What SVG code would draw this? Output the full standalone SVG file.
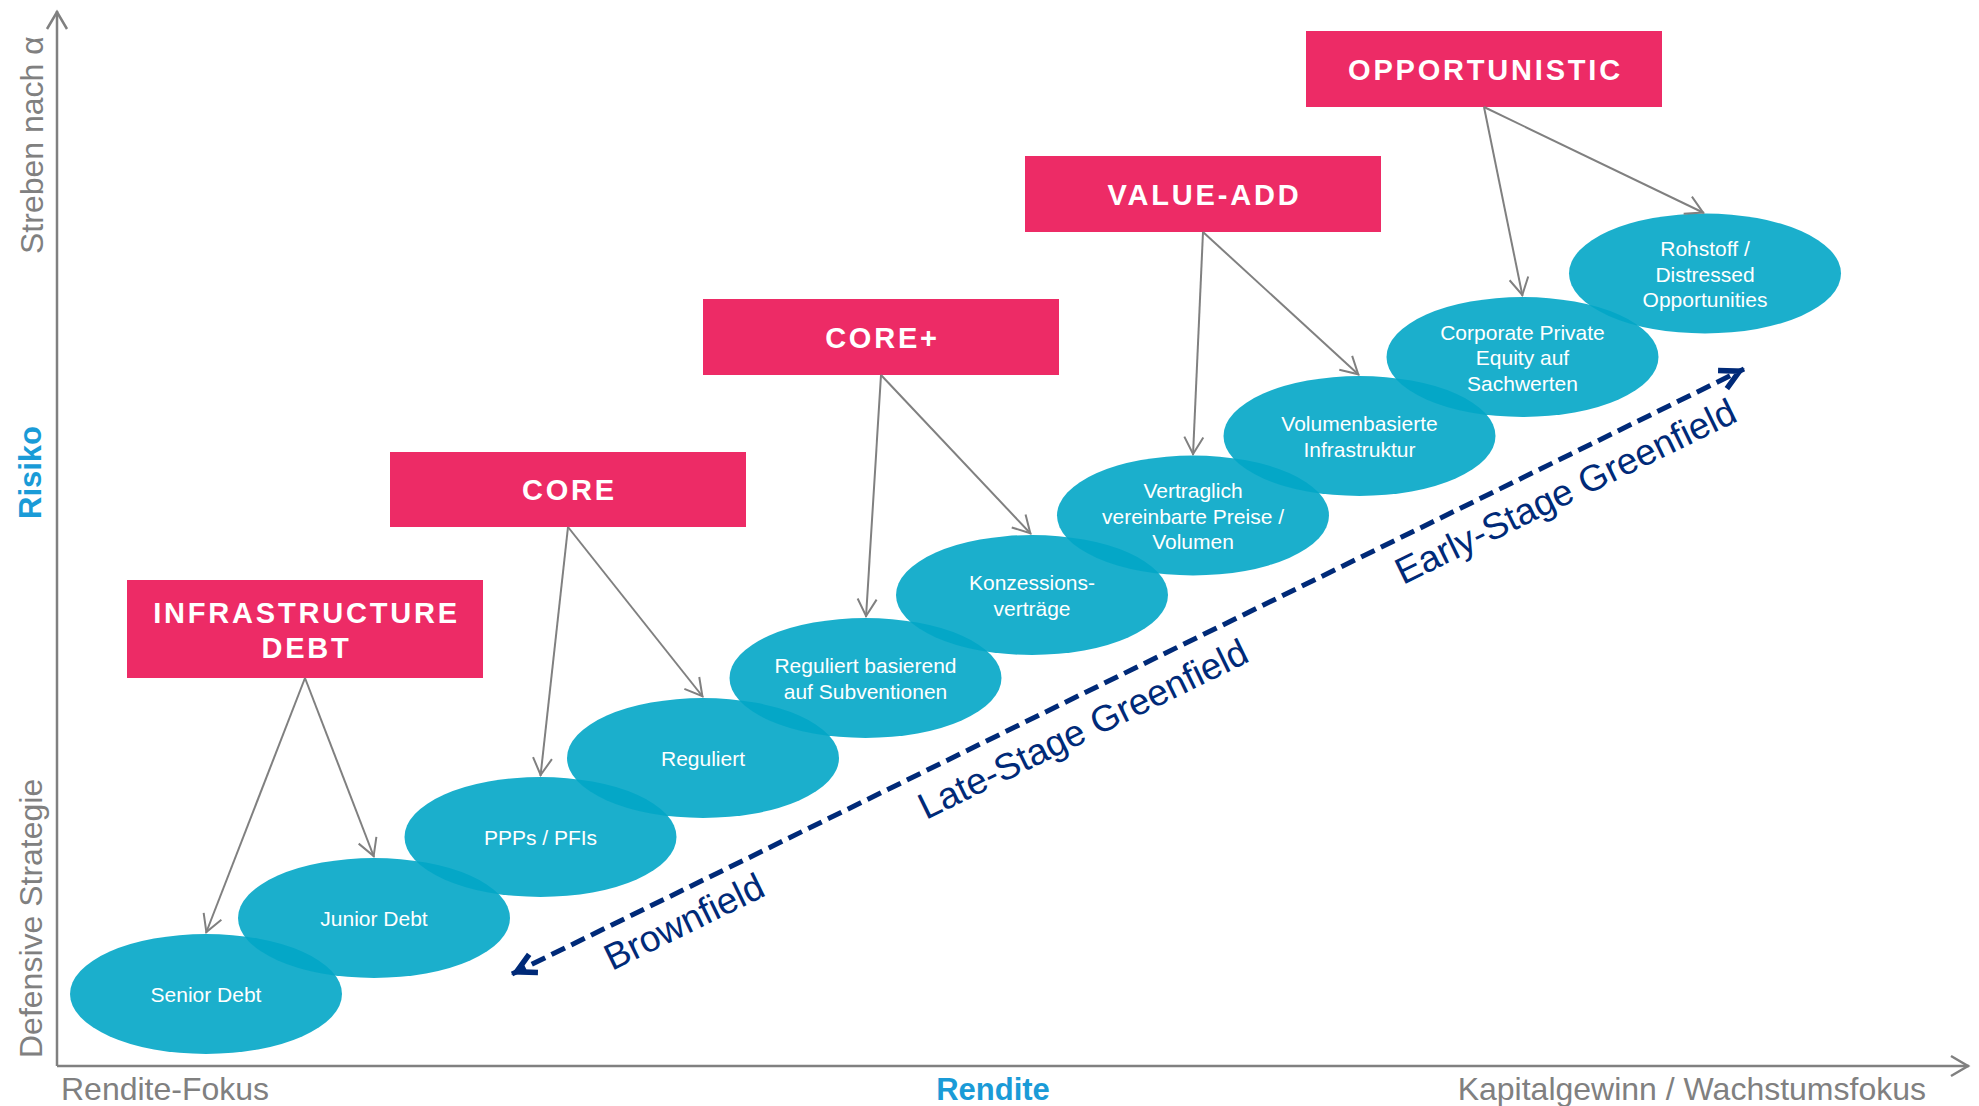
<svg xmlns="http://www.w3.org/2000/svg" width="1979" height="1106" viewBox="0 0 1979 1106">
<style>
.box{fill:#ED2B66}
.boxt{fill:#FFFFFF;font-family:"Liberation Sans",Arial,sans-serif;font-weight:bold;font-size:29px;letter-spacing:2.8px;text-anchor:middle}
.ell{fill:#02A6C7;fill-opacity:0.9}
.et{fill:#FFFFFF;font-family:"Liberation Sans",Arial,sans-serif;font-size:21px;text-anchor:middle}
.conn{stroke:#808080;stroke-width:2;fill:none;marker-end:url(#ga)}
.axis{stroke:#808080;stroke-width:2.5;fill:none;marker-end:url(#aa)}
.ax{fill:#808080;font-family:"Liberation Sans",Arial,sans-serif;font-size:32px}
.axb{fill:#1A9BD7;font-family:"Liberation Sans",Arial,sans-serif;font-size:31px;font-weight:bold}
.stage{fill:#002A78;font-family:"Liberation Sans",Arial,sans-serif;font-size:37px}
.dash{stroke:#002A78;stroke-width:5;fill:none;stroke-dasharray:15 7;marker-start:url(#na);marker-end:url(#na)}
</style>
<defs>
<marker id="ga" markerUnits="userSpaceOnUse" viewBox="-25 -15 30 30" markerWidth="30" markerHeight="30" refX="0" refY="0" orient="auto" overflow="visible">
<path d="M-18,-9.5 L-1,0 L-18,9.5" fill="none" stroke="#808080" stroke-width="2"/>
</marker>
<marker id="aa" markerUnits="userSpaceOnUse" viewBox="-25 -15 30 30" markerWidth="30" markerHeight="30" refX="0" refY="0" orient="auto" overflow="visible">
<path d="M-18,-10 L-1,0 L-18,10" fill="none" stroke="#808080" stroke-width="2.5"/>
</marker>
<marker id="na" markerUnits="userSpaceOnUse" viewBox="-30 -15 35 30" markerWidth="35" markerHeight="30" refX="0" refY="0" orient="auto-start-reverse" overflow="visible">
<path d="M-24,-10 L-5,0 L-24,10" fill="none" stroke="#002A78" stroke-width="5.5" stroke-linejoin="miter"/>
</marker>
</defs>
<rect width="1979" height="1106" fill="#FFFFFF"/>

<g id="axes">
<path class="axis" d="M57,1066 L57,11"/>
<path class="axis" d="M57,1066 L1969,1066"/>
<text class="ax" transform="translate(43,254) rotate(-90)">Streben nach α</text>
<text class="axb" transform="translate(40.5,519) rotate(-90)">Risiko</text>
<text class="ax" transform="translate(42,1058) rotate(-90)">Defensive Strategie</text>
<text class="ax" x="61" y="1100">Rendite-Fokus</text>
<text class="axb" x="993" y="1100" text-anchor="middle">Rendite</text>
<text class="ax" x="1926" y="1100" text-anchor="end">Kapitalgewinn / Wachstumsfokus</text>
</g>

<g id="box-infrastructure-debt">
<rect class="box" x="127" y="580" width="356" height="98"/>
<text class="boxt" x="306.5" y="622.5">INFRASTRUCTURE</text>
<text class="boxt" x="306.5" y="657.5">DEBT</text>
</g>
<g id="box-core">
<rect class="box" x="390" y="452" width="356" height="75"/>
<text class="boxt" x="569.5" y="500">CORE</text>
</g>
<g id="box-core-plus">
<rect class="box" x="703" y="299" width="356" height="76"/>
<text class="boxt" x="882.5" y="348">CORE+</text>
</g>
<g id="box-value-add">
<rect class="box" x="1025" y="156" width="356" height="76"/>
<text class="boxt" x="1204.5" y="204.5">VALUE-ADD</text>
</g>
<g id="box-opportunistic">
<rect class="box" x="1306" y="31" width="356" height="76"/>
<text class="boxt" x="1485.5" y="79.5">OPPORTUNISTIC</text>
</g>

<g id="node-senior-debt">
<ellipse class="ell" cx="206" cy="994" rx="136" ry="60"/>
<text class="et" x="206" y="1001.5">Senior Debt</text>
</g>
<g id="node-junior-debt">
<ellipse class="ell" cx="374" cy="918" rx="136" ry="60"/>
<text class="et" x="374" y="925.5">Junior Debt</text>
</g>
<g id="node-ppps">
<ellipse class="ell" cx="540.5" cy="837" rx="136" ry="60"/>
<text class="et" x="540.5" y="844.5">PPPs / PFIs</text>
</g>
<g id="node-reguliert">
<ellipse class="ell" cx="703" cy="758" rx="136" ry="60"/>
<text class="et" x="703" y="765.5">Reguliert</text>
</g>
<g id="node-reguliert-subventionen">
<ellipse class="ell" cx="865.5" cy="678" rx="136" ry="60"/>
<text class="et" x="865.5" y="673">Reguliert basierend</text>
<text class="et" x="865.5" y="698.5">auf Subventionen</text>
</g>
<g id="node-konzession">
<ellipse class="ell" cx="1032" cy="595" rx="136" ry="60"/>
<text class="et" x="1032" y="590">Konzessions-</text>
<text class="et" x="1032" y="615.5">verträge</text>
</g>
<g id="node-vertraglich">
<ellipse class="ell" cx="1193" cy="515.5" rx="136" ry="60"/>
<text class="et" x="1193" y="498">Vertraglich</text>
<text class="et" x="1193" y="523.5">vereinbarte Preise /</text>
<text class="et" x="1193" y="549">Volumen</text>
</g>
<g id="node-volumen">
<ellipse class="ell" cx="1359.5" cy="436" rx="136" ry="60"/>
<text class="et" x="1359.5" y="431">Volumenbasierte</text>
<text class="et" x="1359.5" y="456.5">Infrastruktur</text>
</g>
<g id="node-corporate">
<ellipse class="ell" cx="1522.5" cy="357" rx="136" ry="60"/>
<text class="et" x="1522.5" y="339.5">Corporate Private</text>
<text class="et" x="1522.5" y="365">Equity auf</text>
<text class="et" x="1522.5" y="390.5">Sachwerten</text>
</g>
<g id="node-rohstoff">
<ellipse class="ell" cx="1705" cy="273.5" rx="136" ry="60"/>
<text class="et" x="1705" y="256">Rohstoff /</text>
<text class="et" x="1705" y="281.5">Distressed</text>
<text class="et" x="1705" y="307">Opportunities</text>
</g>

<g id="connectors">
<path class="conn" d="M305,678 L206,933"/>
<path class="conn" d="M305,678 L374,857"/>
<path class="conn" d="M568,527 L540.5,776"/>
<path class="conn" d="M568,527 L703,697"/>
<path class="conn" d="M881,375 L866,617"/>
<path class="conn" d="M881,375 L1031,534"/>
<path class="conn" d="M1203,232 L1193,455"/>
<path class="conn" d="M1203,232 L1359,375"/>
<path class="conn" d="M1484,107 L1522.5,296"/>
<path class="conn" d="M1484,107 L1704,213"/>
<path class="dash" d="M512,974 L1744,369"/>
</g>

<g id="stages">
<text class="stage" transform="translate(612,971) rotate(-26.1)">Brownfield</text>
<text class="stage" transform="translate(926,820) rotate(-26.1)">Late-Stage Greenfield</text>
<text class="stage" transform="translate(1403,585) rotate(-26.1)">Early-Stage Greenfield</text>
</g>
</svg>
